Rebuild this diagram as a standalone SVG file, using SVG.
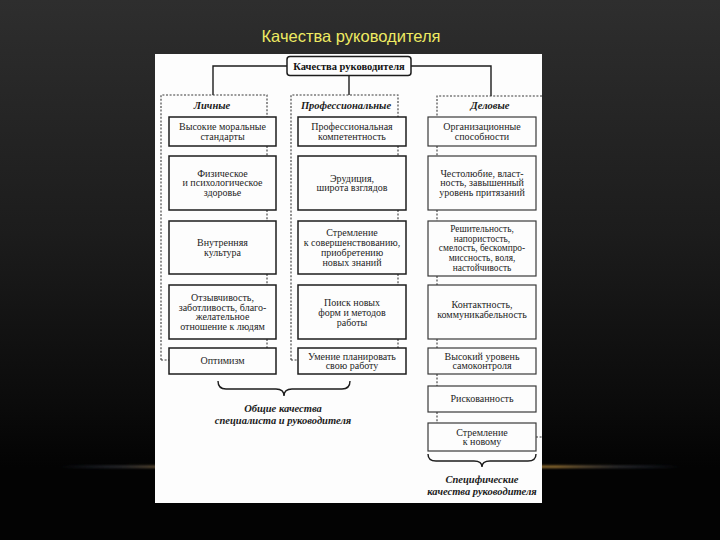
<svg xmlns="http://www.w3.org/2000/svg" width="720" height="540" viewBox="0 0 720 540">
<defs>
<linearGradient id="bg" x1="0" y1="0" x2="0" y2="1">
<stop offset="0" stop-color="#2e2e2e"/>
<stop offset="0.5" stop-color="#1c1c1c"/>
<stop offset="0.86" stop-color="#0b0b0b"/>
<stop offset="1" stop-color="#030303"/>
</linearGradient>
<linearGradient id="glow" x1="60" y1="0" x2="680" y2="0" gradientUnits="userSpaceOnUse">
<stop offset="0" stop-color="#3a4a6a" stop-opacity="0"/>
<stop offset="0.1" stop-color="#4a4a50" stop-opacity="0.6"/>
<stop offset="0.2" stop-color="#9a7434"/>
<stop offset="0.8" stop-color="#9a7434"/>
<stop offset="0.9" stop-color="#4a4a50" stop-opacity="0.6"/>
<stop offset="1" stop-color="#3a4a6a" stop-opacity="0"/>
</linearGradient>
<filter id="blur" x="-10%" y="-300%" width="120%" height="700%"><feGaussianBlur stdDeviation="1.2"/></filter>
</defs>
<style>
.box{fill:#fdfdfd;stroke:#1c1c1c;stroke-width:1.5}
.boxl{fill:#fdfdfd;stroke:#3a3a3a;stroke-width:1.2}
.dash{fill:none;stroke:#3a3a3a;stroke-width:1.1;stroke-dasharray:2 1.6}
.solid{fill:none;stroke:#1c1c1c;stroke-width:1.4}
.t{font-family:"Liberation Serif","DejaVu Serif",serif;font-size:10px;fill:#1e1e1e;text-anchor:middle}
.s{font-size:9.4px}
.h{font-family:"Liberation Serif","DejaVu Serif",serif;font-size:10.5px;font-style:italic;font-weight:bold;fill:#1a1a1a;text-anchor:middle}
.top{font-family:"Liberation Serif","DejaVu Serif",serif;font-size:10.5px;font-weight:bold;fill:#111;text-anchor:middle}
</style>
<rect x="0" y="0" width="720" height="467" fill="url(#bg)"/>
<rect x="0" y="467" width="720" height="73" fill="#030303"/>
<rect x="60" y="465.5" width="620" height="2.5" fill="url(#glow)" filter="url(#blur)"/>
<text x="351" y="42" font-family="'Liberation Sans','Arial',sans-serif" font-size="16.5" fill="#eeea62" text-anchor="middle">Качества руководителя</text>
<rect x="155" y="54" width="387" height="449" fill="#fdfdfd"/>

<g id="connectors">
<path class="solid" d="M287,66 H213 V95 M411,66 H491 V96 M349,75 V95"/>
<path class="dash" d="M161,360 V95 H267 V117 M267,146 V156 M267,210 V221 M267,274 V285 M267,339 V348 M161,360 H169"/>
<path class="dash" d="M291,360 V95 H398 V117 M398,146 V156 M398,210 V221 M398,274 V285 M398,339 V348 M291,360 H298"/>
<path class="dash" d="M542,96 H437 V117 M437,146 V156 M437,210 V221 M437,276 V285 M437,339 V348 M437,374 V386 M437,412 V423 M536,437 H542"/>
<path class="solid" d="M218,381 Q218,389 226,389 L276,389 Q284,389 284,396 Q284,389 292,389 L342,389 Q350,389 350,381"/>
<path class="solid" d="M428,454 Q428,461 436,461 L474,461 Q482,461 482,467 Q482,461 490,461 L528,461 Q536,461 536,454"/>
</g>

<g id="root"><rect x="287" y="56.5" width="124" height="19" rx="3" class="box" stroke-width="1.7"/><text class="top" x="349" y="69.5">Качества руководителя</text></g>

<g id="hdr-personal"><text class="h" x="212" y="109">Личные</text></g>
<g id="hdr-prof"><text class="h" x="346" y="109">Профессиональные</text></g>
<g id="hdr-business"><text class="h" x="490" y="109">Деловые</text></g>

<g id="l1"><rect class="box" x="169" y="117" width="107" height="29"/><text class="t" x="222.5" y="130">Высокие моральные</text><text class="t" x="222.5" y="139.8">стандарты</text></g>
<g id="l2"><rect class="box" x="169" y="156" width="107" height="54"/><text class="t" x="222.5" y="176.6">Физическое</text><text class="t" x="222.5" y="186.4">и психологическое</text><text class="t" x="222.5" y="196.2">здоровье</text></g>
<g id="l3"><rect class="box" x="169" y="221" width="107" height="53"/><text class="t" x="222.5" y="246">Внутренняя</text><text class="t" x="222.5" y="255.8">культура</text></g>
<g id="l4"><rect class="box" x="169" y="285" width="107" height="54"/><text class="t" x="222.5" y="300.7">Отзывчивость,</text><text class="t" x="222.5" y="310.5">заботливость, благо-</text><text class="t" x="222.5" y="320.3">желательное</text><text class="t" x="222.5" y="330.1">отношение к людям</text></g>
<g id="l5"><rect class="box" x="169" y="348" width="107" height="26"/><text class="t" x="222.5" y="364.4">Оптимизм</text></g>

<g id="m1"><rect class="box" x="298" y="117" width="108" height="29"/><text class="t" x="352" y="130">Профессиональная</text><text class="t" x="352" y="139.8">компетентность</text></g>
<g id="m2"><rect class="box" x="298" y="156" width="108" height="54"/><text class="t" x="352" y="181.5">Эрудиция,</text><text class="t" x="352" y="191.3">широта взглядов</text></g>
<g id="m3"><rect class="box" x="298" y="221" width="108" height="53"/><text class="t" x="352" y="236.2">Стремление</text><text class="t" x="352" y="246">к совершенствованию,</text><text class="t" x="352" y="255.8">приобретению</text><text class="t" x="352" y="265.6">новых знаний</text></g>
<g id="m4"><rect class="box" x="298" y="285" width="108" height="54"/><text class="t" x="352" y="306">Поиск новых</text><text class="t" x="352" y="315.8">форм и методов</text><text class="t" x="352" y="325.6">работы</text></g>
<g id="m5"><rect class="box" x="298" y="348" width="108" height="26"/><text class="t" x="352" y="359.5">Умение планировать</text><text class="t" x="352" y="369.3">свою работу</text></g>

<g id="r1"><rect class="boxl" x="428" y="117" width="108" height="29"/><text class="t" x="482" y="130">Организационные</text><text class="t" x="482" y="139.8">способности</text></g>
<g id="r2"><rect class="boxl" x="428" y="156" width="108" height="54"/><text class="t" x="482" y="176.6">Честолюбие, власт-</text><text class="t" x="482" y="186.4">ность, завышенный</text><text class="t" x="482" y="196.2">уровень притязаний</text></g>
<g id="r3"><rect class="boxl" x="428" y="221" width="108" height="55"/><text class="t s" x="482" y="231.7">Решительность,</text><text class="t s" x="482" y="241.5">напористость,</text><text class="t s" x="482" y="251.3">смелость, бескомпро-</text><text class="t s" x="482" y="261.1">миссность, воля,</text><text class="t s" x="482" y="270.9">настойчивость</text></g>
<g id="r4"><rect class="boxl" x="428" y="285" width="108" height="54"/><text class="t" x="482" y="308">Контактность,</text><text class="t" x="482" y="318">коммуникабельность</text></g>
<g id="r5"><rect class="boxl" x="428" y="348" width="108" height="26"/><text class="t" x="482" y="359.5">Высокий уровень</text><text class="t" x="482" y="369.3">самоконтроля</text></g>
<g id="r6"><rect class="boxl" x="428" y="386" width="108" height="26"/><text class="t" x="482" y="402.4">Рискованность</text></g>
<g id="r7"><rect class="boxl" x="428" y="423" width="108" height="28"/><text class="t" x="482" y="435.5">Стремление</text><text class="t" x="482" y="445.3">к новому</text></g>

<g id="label-common"><text class="h" x="283" y="412">Общие качества</text><text class="h" x="283" y="423.5">специалиста и руководителя</text></g>
<g id="label-specific"><text class="h" x="482" y="483">Специфические</text><text class="h" x="482" y="494.5">качества руководителя</text></g>
</svg>
